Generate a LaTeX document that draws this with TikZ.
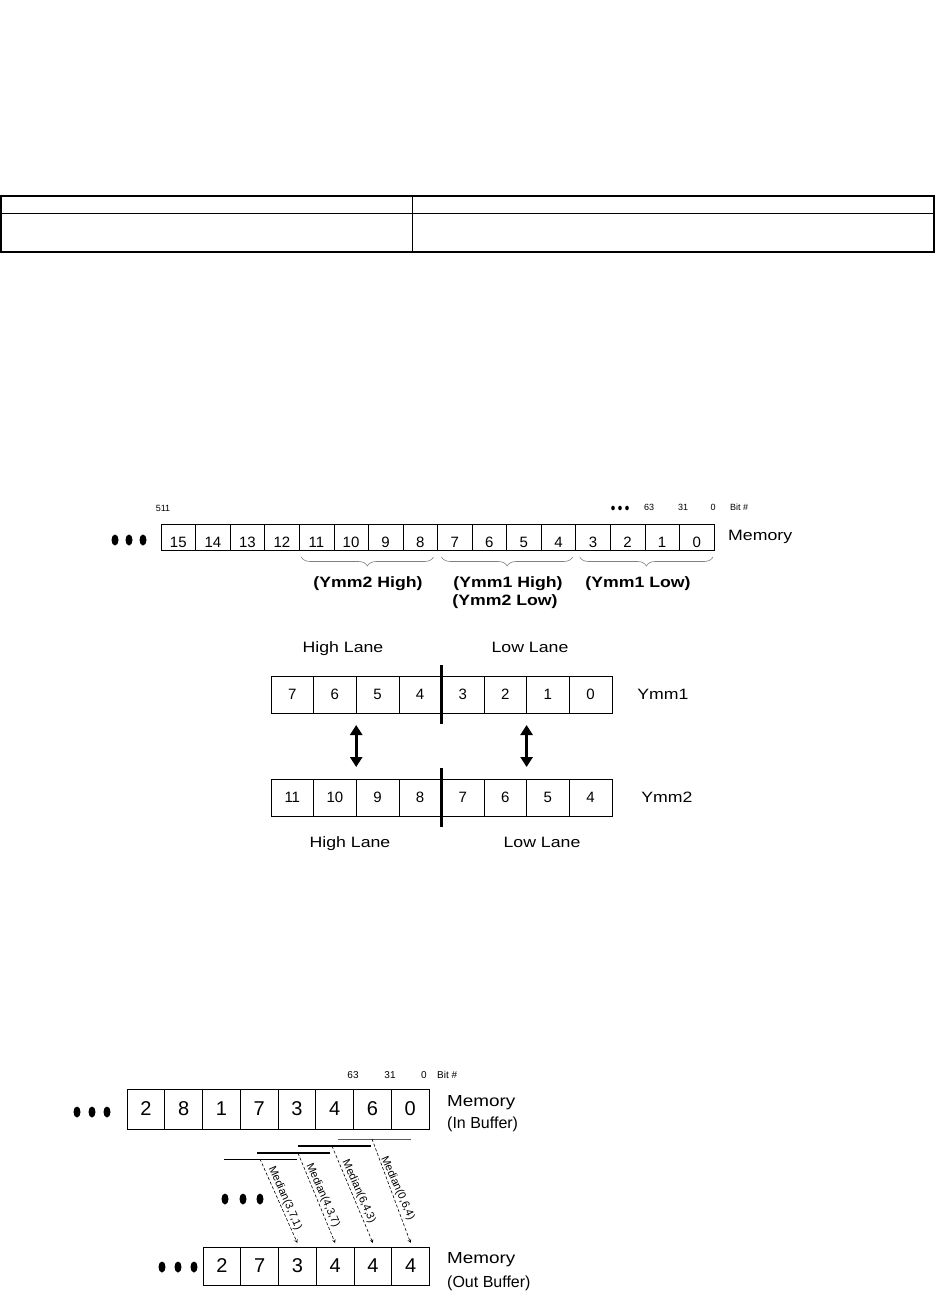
\documentclass[tikz,border=0pt]{standalone}
\usepackage{fontspec}
\setmainfont{Liberation Sans}
\newfontfamily\widefont{Liberation Sans}[FakeStretch=1.18]
\usetikzlibrary{arrows,positioning,calc,arrows.meta,decorations.pathreplacing}

\begin{document}
\begin{tikzpicture}[x=1pt, y=-1pt,
  cellbox/.style={draw, rectangle, line width=0.6pt, inner sep=0pt, outer sep=0pt, anchor=west},
  mcell/.style={cellbox, minimum width=34.56pt, minimum height=26pt,
    text height=20.7pt, text depth=0pt, font=\fontsize{15}{18}\selectfont},
  ycell/.style={cellbox, minimum width=42.6pt, minimum height=37pt,
    font=\fontsize{15}{18}\selectfont},
  bcell/.style={cellbox, minimum width=37.75pt, minimum height=40pt,
    font=\fontsize{20}{24}\selectfont},
  lbl/.style={inner sep=0pt, anchor=base, font=\widefont\fontsize{15}{18}\selectfont},
  blbl/.style={lbl, font=\widefont\fontsize{15}{18}\selectfont\bfseries},
  tiny/.style={inner sep=0pt, anchor=base, font=\fontsize{9}{11}\selectfont},
  side/.style={inner sep=0pt, anchor=base west, font=\fontsize{16}{19}\selectfont},
  brc/.style={decorate, decoration={brace, mirror, amplitude=9pt}, gray, line width=0.6pt},
  lane/.style={line width=3pt},
  xchg/.style={<->, >={Triangle[width=12pt, length=10pt]}, line width=3pt},
  win/.style={line width=1pt},
  arr/.style={->, >=stealth, dashed, dash pattern=on 3pt off 2pt, line width=0.6pt},
  med/.style={midway, rotate=-66, anchor=south, inner sep=1.5pt, font=\fontsize{11}{13}\selectfont}]
  \useasboundingbox (0,0) rectangle (936,1300);
  % Table
  \draw[line width=1.5pt] (1,196) rectangle (934,252);
  \draw[line width=0.8pt] (1,213) -- (934,213);
  \draw[line width=0.8pt] (412,196) -- (412,252);

  % Memory row
  \foreach \k [evaluate=\k as \v using {int(15-\k)}] in {0,...,15}
    \node[mcell] (m\v) at ({161+34.56*\k},537) {\v};
  \foreach \x in {115,129,143}
    \fill (\x,540) ellipse [x radius=3.5pt, y radius=5.5pt];
  \foreach \x in {613,620,627}
    \fill (\x,508) ellipse [x radius=1.8pt, y radius=2.3pt];
  \node[tiny] (b511) at (163,511) {511};
  \node[tiny] (b63) at (649,510) {63};
  \node[tiny] (b31) at (683,510) {31};
  \node[tiny] (b0) at (713,510) {0};
  \node[tiny, anchor=base west] (bit1) at (730,510) {Bit \#};
  \node[lbl, anchor=base west] (mem1) at (728,540) {Memory};
  % Braces
  \draw[brc] ([shift={(2,7)}]m11.south west) -- ([shift={(-4,7)}]m8.south east);
  \draw[brc] ([shift={(4,7)}]m7.south west) -- ([shift={(-3,7)}]m4.south east);
  \draw[brc] ([shift={(4,7)}]m3.south west) -- ([shift={(-1,7)}]m0.south east);
  \node[blbl] (g2h) at (368,587) {(Ymm2 High)};
  \node[blbl] (g1h) at (508,587) {(Ymm1 High)};
  \node[blbl] (g2l) at (505,605) {(Ymm2 Low)};
  \node[blbl] (g1l) at (638,587) {(Ymm1 Low)};

  % Ymm registers
  \foreach \k [evaluate=\k as \v using {int(7-\k)}] in {0,...,7}
    \node[ycell] (ya\k) at ({271+42.6*\k},694.5) {\v};
  \foreach \k [evaluate=\k as \v using {int(11-\k)}] in {0,...,7}
    \node[ycell] (yb\k) at ({271+42.6*\k},797.5) {\v};
  \draw[lane] ([yshift=11pt]ya3.north east) -- ([yshift=-11pt]ya3.south east);
  \draw[lane] ([yshift=11pt]yb3.north east) -- ([yshift=-11pt]yb3.south east);
  \draw[xchg] ([yshift=-12pt]ya1.south east) -- ([yshift=12pt]yb1.north east);
  \draw[xchg] ([yshift=-12pt]ya5.south east) -- ([yshift=12pt]yb5.north east);
  \node[lbl] (hl1) at (343,652) {High Lane};
  \node[lbl] (ll1) at (530,652) {Low Lane};
  \node[lbl] (hl2) at (350,847) {High Lane};
  \node[lbl] (ll2) at (542,847) {Low Lane};
  \node[lbl] (ymm1) at (663,699) {Ymm1};
  \node[lbl] (ymm2) at (667,802) {Ymm2};

  % In / out buffers
  \foreach \v [count=\k from 0] in {2,8,1,7,3,4,6,0}
    \node[bcell] (in\k) at ({127+37.75*\k},1109) {\v};
  \foreach \v [count=\k from 0] in {2,7,3,4,4,4}
    \node[bcell, minimum height=38pt] (out\k) at ({203+37.75*\k},1266) {\v};
  \foreach \x in {77,92,107}
    \fill (\x,1112) ellipse [x radius=3.5pt, y radius=5.5pt];
  \foreach \x in {225,243,260}
    \fill (\x,1199) ellipse [x radius=3.5pt, y radius=5.5pt];
  \foreach \x in {162,178,194}
    \fill (\x,1267) ellipse [x radius=3.5pt, y radius=5.5pt];
  \node[tiny, font=\fontsize{10}{12}\selectfont] (c63) at (353,1078) {63};
  \node[tiny, font=\fontsize{10}{12}\selectfont] (c31) at (390,1078) {31};
  \node[tiny, font=\fontsize{10}{12}\selectfont] (c0) at (424,1078) {0};
  \node[tiny, anchor=base west, font=\fontsize{10}{12}\selectfont] (bit2) at (437,1078) {Bit \#};
  \node[side, font=\widefont\fontsize{16}{19}\selectfont] (mem2) at (447,1106) {Memory};
  \node[side] (inb) at (447,1128) {(In Buffer)};
  \node[side, font=\widefont\fontsize{16}{19}\selectfont] (mem3) at (447,1263) {Memory};
  \node[side] (outb) at (447,1287) {(Out Buffer)};
  % Median windows
  \draw[win] (224,1159) -- (297,1159);
  \draw[win, line width=2pt] (257,1153) -- (330,1153);
  \draw[win, line width=1.3pt] (298,1146) -- (371,1146);
  \draw[win, gray!70!black] (338,1139) -- (411,1139);
  \coordinate (w1) at (260,1159);
  \coordinate (w2) at (298,1153);
  \coordinate (w3) at (332,1146);
  \coordinate (w4) at (372,1139);
  \draw[arr] (w1) -- node[med] {Median(3,7,1)} ([yshift=4pt]out2.north);
  \draw[arr] (w2) -- node[med] {Median(4,3,7)} ([yshift=4pt]out3.north);
  \draw[arr] (w3) -- node[med] {Median(6,4,3)} ([yshift=4pt]out4.north);
  \draw[arr] (w4) -- node[med] {Median(0,6,4)} ([yshift=4pt]out5.north);
\end{tikzpicture}
\end{document}
